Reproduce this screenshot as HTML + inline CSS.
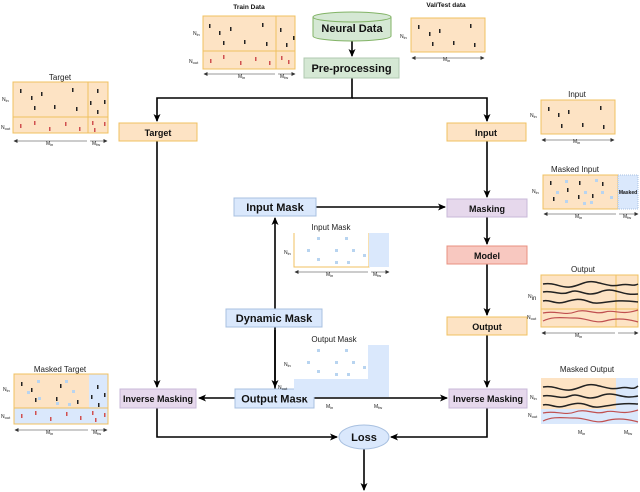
<!DOCTYPE html>
<html><head><meta charset="utf-8"><style>
html,body{margin:0;padding:0;background:#fff}
svg{display:block;font-family:"Liberation Sans",Arial,sans-serif}
.b{font-weight:bold;fill:#111}
.s{font-size:8px;fill:#222}
.t{font-size:5px;fill:#222}
</style></head><body>
<svg width="640" height="492" viewBox="0 0 640 492" xmlns="http://www.w3.org/2000/svg">
<defs>
<marker id="a" markerWidth="8" markerHeight="8" refX="7" refY="4" orient="auto" markerUnits="userSpaceOnUse"><path d="M0,0.5 L8,4 L0,7.5 L2,4z" fill="#000"/></marker>
<marker id="sa" markerWidth="4" markerHeight="4" refX="3.5" refY="2" orient="auto-start-reverse" markerUnits="userSpaceOnUse"><path d="M0,0 L4,2 L0,4z" fill="#333"/></marker>
</defs>
<g stroke="#000" stroke-width="1.6" fill="none">
<path d="M352,78 V98 H157 V121" marker-end="url(#a)"/>
<path d="M352,98 H487 V121" marker-end="url(#a)"/>
<path d="M352,40 V56" marker-end="url(#a)"/>
<path d="M157,141 V387" marker-end="url(#a)"/>
<path d="M487,141 V197" marker-end="url(#a)"/>
<path d="M487,217 V244" marker-end="url(#a)"/>
<path d="M487,264 V315" marker-end="url(#a)"/>
<path d="M487,335 V387" marker-end="url(#a)"/>
<path d="M316,207 H445" marker-end="url(#a)"/>
<path d="M275,389 V218" marker-end="url(#a)"/>
<path d="M275,330 V387" marker-end="url(#a)"/>
<path d="M235,398 H199" marker-end="url(#a)"/>
<path d="M314,398 H447" marker-end="url(#a)"/>
<path d="M157,408 V437 H337" marker-end="url(#a)"/>
<path d="M487,408 V437 H391" marker-end="url(#a)"/>
<path d="M364,449 V490" marker-end="url(#a)"/>
</g>
<path d="M313,17 V36 A39,5 0 0 0 391,36 V17" fill="#d5e8d4" stroke="#82b366"/>
<ellipse cx="352" cy="17" rx="39" ry="5" fill="#d5e8d4" stroke="#82b366"/>
<text x="352" y="32" text-anchor="middle" class="b" font-size="11">Neural Data</text>
<rect x="304" y="58" width="95" height="20" fill="#d5e8d4" stroke="#b0c8b0"/>
<text x="351.5" y="72" text-anchor="middle" class="b" font-size="11">Pre-processing</text>
<g stroke-width="1">
<rect x="119" y="123" width="78" height="18" fill="#fde3c4" stroke="#f0c060"/>
<rect x="447" y="123" width="79" height="18" fill="#fde3c4" stroke="#f0c060"/>
<rect x="447" y="199" width="80" height="18" fill="#e6d8ec" stroke="#c8b8d8"/>
<rect x="447" y="246" width="80" height="18" fill="#f8c8c0" stroke="#e89080"/>
<rect x="447" y="317" width="80" height="18" fill="#fde3c4" stroke="#f0c060"/>
<rect x="449" y="389" width="78" height="19" fill="#e6d8ec" stroke="#c8b8d8"/>
<rect x="120" y="389" width="76" height="19" fill="#e6d8ec" stroke="#c8b8d8"/>
<rect x="234" y="198" width="82" height="18" fill="#dae8fc" stroke="#a8c0e0"/>
<rect x="226" y="309" width="96" height="18" fill="#dae8fc" stroke="#a8c0e0"/>
<rect x="235" y="389" width="79" height="19" fill="#dae8fc" stroke="#a8c0e0"/>
<ellipse cx="364" cy="437" rx="25" ry="12" fill="#dae8fc" stroke="#a8c0e0"/>
</g>
<g class="b" text-anchor="middle" font-size="9">
<text x="158" y="136">Target</text>
<text x="486" y="136">Input</text>
<text x="487" y="212">Masking</text>
<text x="487" y="259">Model</text>
<text x="487" y="330">Output</text>
<text x="488" y="402">Inverse Masking</text>
<text x="158" y="402">Inverse Masking</text>
</g>
<g class="b" text-anchor="middle" font-size="11">
<text x="275" y="211">Input Mask</text>
<text x="274" y="322">Dynamic Mask</text>
<text x="274.5" y="402.5">Output Mask</text>
<text x="364" y="441">Loss</text>
</g>
<text x="249" y="9" text-anchor="middle" class="b" font-size="6.5">Train Data</text>
<rect x="203" y="16" width="92" height="53" fill="#fde3c4"/>
<g stroke="#f0c060" fill="none"><rect x="203" y="16" width="92" height="53"/><path d="M276,16V69 M203,51H295"/></g>
<g fill="#222"><rect x="209" y="24" width="1.5" height="4"/><rect x="219" y="31" width="1.5" height="4"/><rect x="230" y="27" width="1.5" height="4"/><rect x="262" y="23" width="1.5" height="4"/><rect x="223" y="41" width="1.5" height="4"/><rect x="244" y="40" width="1.5" height="4"/><rect x="266" y="42" width="1.5" height="4"/><rect x="280" y="28" width="1.5" height="4"/><rect x="286" y="43" width="1.5" height="4"/><rect x="293" y="36" width="1.5" height="4"/></g>
<g fill="#d05050"><rect x="210" y="59" width="1.5" height="4"/><rect x="223" y="55" width="1.5" height="4"/><rect x="240" y="61" width="1.5" height="4"/><rect x="255" y="57" width="1.5" height="4"/><rect x="269" y="61" width="1.5" height="4"/><rect x="281" y="56" width="1.5" height="4"/><rect x="288" y="60" width="1.5" height="4"/></g>
<text x="193" y="35" class="t" font-size="6">N<tspan font-size="4" dy="1">in</tspan></text>
<text x="189" y="63" class="t" font-size="6">N<tspan font-size="4" dy="1">out</tspan></text>
<path d="M204,74H275M278,74H295" stroke="#333" stroke-width="0.6" marker-start="url(#sa)" marker-end="url(#sa)"/>
<text x="238" y="78" class="t" font-size="6">M<tspan font-size="4" dy="1">in</tspan></text>
<text x="280" y="78" class="t" font-size="6">M<tspan font-size="4" dy="1">fw</tspan></text>
<text x="446" y="7" text-anchor="middle" class="b" font-size="6.5">Val/Test data</text>
<rect x="411" y="18" width="74" height="34" fill="#fde3c4" stroke="#f0c060"/>
<g fill="#222"><rect x="418" y="25" width="1.5" height="4"/><rect x="429" y="32" width="1.5" height="4"/><rect x="439" y="29" width="1.5" height="4"/><rect x="470" y="24" width="1.5" height="4"/><rect x="432" y="42" width="1.5" height="4"/><rect x="453" y="41" width="1.5" height="4"/><rect x="474" y="43" width="1.5" height="4"/></g>
<text x="400" y="38" class="t" font-size="6">N<tspan font-size="4" dy="1">in</tspan></text>
<path d="M412,58H484" stroke="#333" stroke-width="0.6" marker-start="url(#sa)" marker-end="url(#sa)"/>
<text x="443" y="61" class="t" font-size="6">M<tspan font-size="4" dy="1">in</tspan></text>
<text x="60" y="80" text-anchor="middle" class="s">Target</text>
<rect x="13" y="82" width="95" height="51" fill="#fde3c4"/>
<g stroke="#f0c060" fill="none"><rect x="13" y="82" width="95" height="51"/><path d="M88,82V133M13,117H108"/></g>
<g fill="#222"><rect x="20" y="89" width="1.5" height="4"/><rect x="31" y="96" width="1.5" height="4"/><rect x="41" y="92" width="1.5" height="4"/><rect x="72" y="88" width="1.5" height="4"/><rect x="34" y="106" width="1.5" height="4"/><rect x="54" y="105" width="1.5" height="4"/><rect x="76" y="107" width="1.5" height="4"/><rect x="97" y="89" width="1.5" height="4"/><rect x="90" y="101" width="1.5" height="4"/><rect x="104" y="100" width="1.5" height="4"/><rect x="97" y="110" width="1.5" height="4"/></g>
<g fill="#d05050"><rect x="20" y="124" width="1.5" height="4"/><rect x="34" y="121" width="1.5" height="4"/><rect x="49" y="127" width="1.5" height="4"/><rect x="65" y="122" width="1.5" height="4"/><rect x="79" y="127" width="1.5" height="4"/><rect x="92" y="121" width="1.5" height="4"/><rect x="94" y="128" width="1.5" height="4"/><rect x="104" y="122" width="1.5" height="4"/></g>
<text x="2" y="101" class="t" font-size="6">N<tspan font-size="4" dy="1">in</tspan></text>
<text x="1" y="129" class="t" font-size="6">N<tspan font-size="4" dy="1">out</tspan></text>
<path d="M14,141H87M90,141H107" stroke="#333" stroke-width="0.6" marker-start="url(#sa)" marker-end="url(#sa)"/>
<text x="46" y="145" class="t" font-size="6">M<tspan font-size="4" dy="1">in</tspan></text>
<text x="92" y="145" class="t" font-size="6">M<tspan font-size="4" dy="1">fw</tspan></text>
<text x="577" y="97" text-anchor="middle" class="s">Input</text>
<rect x="541" y="100" width="74" height="34" fill="#fde3c4" stroke="#f0c060"/>
<g fill="#222"><rect x="548" y="107" width="1.5" height="4"/><rect x="558" y="113" width="1.5" height="4"/><rect x="568" y="110" width="1.5" height="4"/><rect x="600" y="106" width="1.5" height="4"/><rect x="561" y="124" width="1.5" height="4"/><rect x="582" y="123" width="1.5" height="4"/><rect x="603" y="125" width="1.5" height="4"/></g>
<text x="530" y="117" class="t" font-size="6">N<tspan font-size="4" dy="1">in</tspan></text>
<path d="M542,140H614" stroke="#333" stroke-width="0.6" marker-start="url(#sa)" marker-end="url(#sa)"/>
<text x="573" y="143" class="t" font-size="6">M<tspan font-size="4" dy="1">in</tspan></text>
<text x="575" y="172" text-anchor="middle" class="s">Masked Input</text>
<rect x="543" y="175" width="75" height="34" fill="#fde3c4" stroke="#f0c060"/>
<rect x="618" y="175" width="20" height="34" fill="#dae8fc" stroke="#a8c0e0" stroke-dasharray="1,1"/>
<text x="628" y="194" text-anchor="middle" class="b" font-size="5">Masked</text>
<g fill="#222"><rect x="550" y="181" width="1.5" height="4"/><rect x="567" y="188" width="1.5" height="4"/><rect x="579" y="181" width="1.5" height="4"/><rect x="602" y="182" width="1.5" height="4"/><rect x="553" y="197" width="1.5" height="4"/><rect x="578" y="195" width="1.5" height="4"/><rect x="592" y="194" width="1.5" height="4"/></g>
<g fill="#b8d4f0"><rect x="565" y="180" width="3" height="3"/><rect x="595" y="179" width="3" height="3"/><rect x="556" y="191" width="3" height="3"/><rect x="584" y="191" width="3" height="3"/><rect x="601" y="191" width="3" height="3"/><rect x="565" y="200" width="3" height="3"/><rect x="583" y="202" width="3" height="3"/><rect x="590" y="201" width="3" height="3"/><rect x="610" y="196" width="3" height="3"/></g>
<text x="532" y="193" class="t" font-size="6">N<tspan font-size="4" dy="1">in</tspan></text>
<path d="M544,214H616M619,214H638" stroke="#333" stroke-width="0.6" marker-start="url(#sa)" marker-end="url(#sa)"/>
<text x="575" y="218" class="t" font-size="6">M<tspan font-size="4" dy="1">in</tspan></text>
<text x="623" y="218" class="t" font-size="6">M<tspan font-size="4" dy="1">fw</tspan></text>
<text x="583" y="272" text-anchor="middle" class="s">Output</text>
<rect x="541" y="275" width="97" height="52" fill="#fde3c4"/>
<g stroke="#f0c060" fill="none"><rect x="541" y="275" width="97" height="52"/><path d="M616,275V327M541,309H638"/></g>
<g fill="none" stroke="#222" stroke-width="1.5"><path d="M543,284 C555,282 560,288 570,287 S585,280 595,282 S610,287 620,285 S632,287 638,284"/><path d="M543,292 C553,290 560,296 570,292 S585,298 600,292 S620,296 638,294"/><path d="M543,301 C550,299 555,305 565,302 S580,298 590,302 S610,298 638,302"/></g>
<g fill="none" stroke="#c05050" stroke-width="1.2"><path d="M543,313 C555,310 565,316 575,312 S595,315 605,312 S620,316 638,310"/><path d="M543,321 C553,316 563,318 575,318 S595,324 605,321 S625,318 638,322"/></g>
<text x="528" y="298" class="t" font-size="9">N<tspan font-size="6" dy="2">in</tspan></text>
<text x="527" y="319" class="t" font-size="6">N<tspan font-size="4" dy="1">out</tspan></text>
<path d="M542,333H615M618,333H638" stroke="#333" stroke-width="0.6" marker-start="url(#sa)" marker-end="url(#sa)"/>
<text x="575" y="337" class="t" font-size="6">M<tspan font-size="4" dy="1">in</tspan></text>
<text x="331" y="230" text-anchor="middle" class="s" font-size="7">Input Mask</text>
<path d="M294,233V267H369V233" fill="none" stroke="#f0c060"/>
<rect x="369" y="233" width="20" height="34" fill="#dae8fc"/>
<g fill="#b8d4f0"><rect x="317" y="237" width="3" height="3"/><rect x="345" y="237" width="3" height="3"/><rect x="307" y="249" width="3" height="3"/><rect x="335" y="249" width="3" height="3"/><rect x="352" y="249" width="3" height="3"/><rect x="363" y="254" width="3" height="3"/><rect x="317" y="258" width="3" height="3"/><rect x="335" y="261" width="3" height="3"/><rect x="347" y="261" width="3" height="3"/></g>
<text x="284" y="254" class="t" font-size="6">N<tspan font-size="4" dy="1">in</tspan></text>
<path d="M295,272H368M371,272H389" stroke="#333" stroke-width="0.6" marker-start="url(#sa)" marker-end="url(#sa)"/>
<text x="326" y="276" class="t" font-size="6">M<tspan font-size="4" dy="1">in</tspan></text>
<text x="373" y="276" class="t" font-size="6">M<tspan font-size="4" dy="1">fw</tspan></text>
<text x="334" y="342" text-anchor="middle" class="s" font-size="7">Output Mask</text>
<path d="M368,345H389V397H294V379H368Z" fill="#dae8fc"/>
<g fill="#b8d4f0"><rect x="317" y="349" width="3" height="3"/><rect x="345" y="349" width="3" height="3"/><rect x="307" y="361" width="3" height="3"/><rect x="335" y="361" width="3" height="3"/><rect x="352" y="361" width="3" height="3"/><rect x="363" y="366" width="3" height="3"/><rect x="317" y="370" width="3" height="3"/><rect x="335" y="373" width="3" height="3"/><rect x="347" y="373" width="3" height="3"/></g>
<text x="284" y="366" class="t" font-size="6">N<tspan font-size="4" dy="1">in</tspan></text>
<text x="278" y="389" class="t" font-size="6">N<tspan font-size="4" dy="1">out</tspan></text>
<text x="326" y="408" class="t" font-size="6">M<tspan font-size="4" dy="1">in</tspan></text>
<text x="374" y="408" class="t" font-size="6">M<tspan font-size="4" dy="1">fw</tspan></text>
<text x="60" y="372" text-anchor="middle" class="s" font-size="7">Masked Target</text>
<rect x="14" y="374" width="75" height="34" fill="#fde3c4"/>
<rect x="89" y="374" width="19" height="34" fill="#dae8fc"/>
<rect x="14" y="408" width="94" height="16" fill="#dae8fc"/>
<g stroke="#f0c060" fill="none"><rect x="14" y="374" width="94" height="50"/><path d="M14,408H108"/></g>
<g fill="#222"><rect x="21" y="382" width="1.5" height="4"/><rect x="31" y="388" width="1.5" height="4"/><rect x="60" y="384" width="1.5" height="4"/><rect x="35" y="398" width="1.5" height="4"/><rect x="56" y="397" width="1.5" height="4"/><rect x="77" y="400" width="1.5" height="4"/><rect x="97" y="385" width="1.5" height="4"/><rect x="91" y="395" width="1.5" height="4"/><rect x="104" y="393" width="1.5" height="4"/><rect x="98" y="403" width="1.5" height="4"/></g>
<g fill="#b8d4f0"><rect x="37" y="380" width="3" height="3"/><rect x="65" y="380" width="3" height="3"/><rect x="27" y="391" width="3" height="3"/><rect x="72" y="390" width="3" height="3"/><rect x="38" y="397" width="3" height="3"/><rect x="56" y="402" width="3" height="3"/><rect x="68" y="403" width="3" height="3"/></g>
<g fill="#d05050"><rect x="21" y="414" width="1.5" height="4"/><rect x="35" y="411" width="1.5" height="4"/><rect x="50" y="417" width="1.5" height="4"/><rect x="66" y="412" width="1.5" height="4"/><rect x="80" y="416" width="1.5" height="4"/><rect x="92" y="411" width="1.5" height="4"/><rect x="95" y="418" width="1.5" height="4"/><rect x="104" y="413" width="1.5" height="4"/></g>
<text x="3" y="391" class="t" font-size="6">N<tspan font-size="4" dy="1">in</tspan></text>
<text x="1" y="418" class="t" font-size="6">N<tspan font-size="4" dy="1">out</tspan></text>
<path d="M15,430H88M91,430H107" stroke="#333" stroke-width="0.6" marker-start="url(#sa)" marker-end="url(#sa)"/>
<text x="46" y="434" class="t" font-size="6">M<tspan font-size="4" dy="1">in</tspan></text>
<text x="93" y="434" class="t" font-size="6">M<tspan font-size="4" dy="1">fw</tspan></text>
<text x="587" y="372" text-anchor="middle" class="s" font-size="7">Masked Output</text>
<rect x="541" y="378" width="75" height="31" fill="#fde3c4"/>
<rect x="616" y="378" width="22" height="46" fill="#dae8fc"/>
<rect x="541" y="409" width="97" height="15" fill="#dae8fc"/>
<g fill="none" stroke="#222" stroke-width="1.5"><path d="M543,387 C555,385 560,391 570,390 S585,383 595,385 S610,390 620,388 S632,391 638,386"/><path d="M543,396 C553,394 560,400 570,396 S585,402 600,396 S620,400 638,396"/><path d="M543,405 C550,403 555,409 565,406 S580,402 590,406 S610,402 638,404"/></g>
<g fill="none" stroke="#c05050" stroke-width="1.2"><path d="M543,413 C555,410 565,416 575,412 S595,415 605,412 S620,416 638,410"/><path d="M543,421 C553,416 563,418 575,418 S595,424 605,421 S625,418 638,422"/></g>
<text x="530" y="399" class="t" font-size="6">N<tspan font-size="4" dy="1">in</tspan></text>
<text x="528" y="417" class="t" font-size="6">N<tspan font-size="4" dy="1">out</tspan></text>
<text x="578" y="434" class="t" font-size="6">M<tspan font-size="4" dy="1">in</tspan></text>
<text x="624" y="434" class="t" font-size="6">M<tspan font-size="4" dy="1">fw</tspan></text>
</svg>
</body></html>
